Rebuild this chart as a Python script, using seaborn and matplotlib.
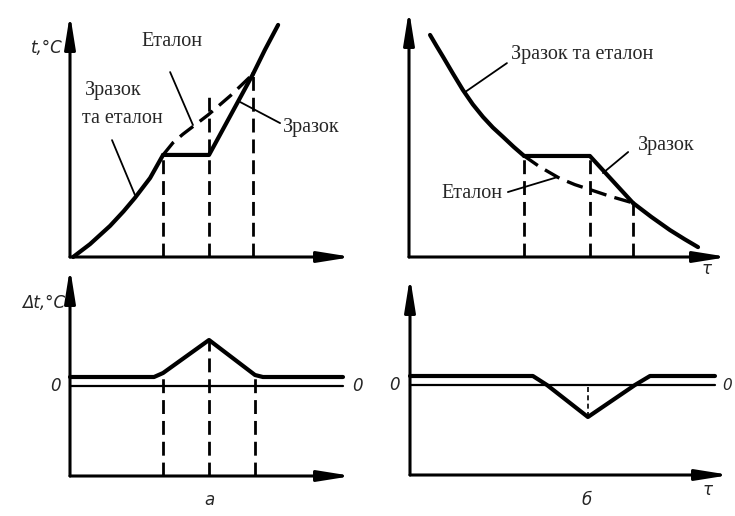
import matplotlib
matplotlib.use("Agg")
import matplotlib.pyplot as plt
import seaborn as sns

sns.set_theme(style="white")
plt.rcParams["font.family"] = ["Liberation Serif", "DejaVu Serif"]

# ---------------- data (arbitrary units: time tau 0..100, temperature 0..100) -------------
# (a) heating: top panel
a_common_x = [1.1, 7.1, 14.2, 19.0, 23.0, 28.4, 33.0]
a_common_y = [0.0, 5.3, 12.8, 18.8, 24.3, 32.5, 42.0]
a_upper_x = [64.9, 69.1, 73.8]
a_upper_y = [75.3, 85.2, 95.5]
a_sample_x = [33.0, 49.3, 64.9]
a_sample_y = [42.0, 42.0, 75.3]
a_etalon_x = [33.0, 36.5, 40.0, 48.9, 57.0, 64.9]
a_etalon_y = [42.0, 47.0, 50.5, 58.4, 66.5, 75.3]
a_vline_x = [33.0, 49.3, 64.9]
a_vline_top = [42.0, 66.7, 75.3]

# (a) heating: difference panel
a_dt_x = [0.0, 29.8, 33.0, 49.3, 65.6, 68.4, 96.8]
a_dt_y = [4.5, 4.5, 6.5, 23.0, 5.5, 4.5, 4.5]
a_dt_vline_x = [33.0, 49.3, 65.6]
a_dt_vline_top = [6.5, 23.0, 5.5]
a_zero_x = [0.0, 96.8]

# (б) cooling: top panel
b_common_x = [6.6, 8.6, 10.7, 13.8, 16.9, 20.0, 23.2, 26.3, 29.5, 32.8, 36.1]
b_common_y = [89.9, 85.5, 81.0, 74.2, 67.6, 61.8, 56.7, 52.4, 48.6, 44.6, 40.9]
b_lower_x = [70.2, 76.0, 81.8, 86.4, 90.6]
b_lower_y = [21.9, 16.2, 10.9, 7.2, 4.0]
b_sample_x = [36.1, 56.7, 70.2]
b_sample_y = [40.9, 40.9, 21.9]
b_etalon_x = [36.1, 41.0, 47.3, 52.0, 56.7, 63.0, 70.2]
b_etalon_y = [40.9, 36.5, 31.8, 29.3, 27.3, 24.6, 21.9]
b_vline_x = [36.1, 56.7, 70.2]
b_vline_top = [40.9, 40.9, 21.9]

# (б) cooling: difference panel
b_dt_x = [0.0, 38.4, 42.8, 55.6, 70.3, 75.0, 95.3]
b_dt_y = [4.5, 4.5, 0.0, -16.0, 0.0, 4.5, 4.5]
b_dt_vline_x = [55.6]
b_dt_vline_bottom = [-16.0]
b_zero_x = [0.0, 95.3]

label_etalon = "Еталон"
label_sample = "Зразок"
label_both = "Зразок та еталон"
label_both_1 = "Зразок"
label_both_2 = "та еталон"
label_t = "t,°C"
label_dt = "Δt,°C"
label_tau = "τ"
label_a = "a"
label_b = "б"

# ---------------- figure ----------------
W, H = 735, 516
fig = plt.figure(figsize=(W / 100, H / 100), dpi=100)
fig.patch.set_facecolor("white")


def make_axes(left, right, top, bottom, xlim, ylim):
    ax = fig.add_axes([left / W, 1 - bottom / H, (right - left) / W, (bottom - top) / H])
    ax.set_xlim(*xlim)
    ax.set_ylim(*ylim)
    for s in ax.spines.values():
        s.set_visible(False)
    ax.set_xticks([])
    ax.set_yticks([])
    ax.patch.set_alpha(0)
    arrow = dict(arrowstyle="-|>,head_length=1.0,head_width=0.16", lw=2.2,
                 color="black", shrinkA=0, shrinkB=0, mutation_scale=20)
    ax.annotate("", xy=(1, 0), xytext=(0, 0), xycoords="axes fraction",
                arrowprops=arrow, annotation_clip=False)
    ax.annotate("", xy=(0, 1), xytext=(0, 0), xycoords="axes fraction",
                arrowprops=arrow, annotation_clip=False)
    return ax


THICK = 3.0
DASH = dict(color="black", lw=2.0, linestyles=(0, (5, 2.5)), clip_on=False)
serif = ["Liberation Serif", "DejaVu Serif"]
ital = dict(family=["DejaVu Sans"], style="italic", fontsize=12)
lab = dict(family=serif, fontsize=14.5, ha="center", va="center")


def curve(ax, x, y, **kw):
    sns.lineplot(x=x, y=y, ax=ax, color="black", sort=False, estimator=None,
                 legend=False, **kw)
    for ln in ax.lines:
        ln.set_clip_on(False)
        ln.set_solid_joinstyle("round")
        ln.set_solid_capstyle("round")


def leader(ax, x, y):
    ax.plot(x, y, color="black", lw=1.3, clip_on=False)


# ---- top-left (a) ----
ax1 = make_axes(70, 352, 14, 257, (0, 100), (0, 100))
curve(ax1, a_common_x, a_common_y, linewidth=THICK)
curve(ax1, a_upper_x, a_upper_y, linewidth=THICK)
curve(ax1, a_sample_x, a_sample_y, linewidth=THICK)
curve(ax1, a_etalon_x, a_etalon_y, linewidth=2.4, linestyle=(0, (5, 2.5)))
ax1.vlines(a_vline_x, 0, a_vline_top, **DASH)
ax1.text(-2.5, 86.0, label_t, ha="right", va="center", **ital)
ax1.text(36.2, 88.5, label_etalon, **lab)
ax1.text(15.2, 68.7, label_both_1, **lab)
ax1.text(18.4, 57.2, label_both_2, **lab)
ax1.text(85.5, 53.1, label_sample, **lab)
leader(ax1, [35.5, 43.6], [76.1, 54.3])
leader(ax1, [14.9, 23.0], [48.1, 25.6])
leader(ax1, [74.5, 60.3], [55.1, 63.8])

# ---- top-right (б) ----
ax2 = make_axes(409, 728, 10, 257, (0, 100), (0, 100))
curve(ax2, b_common_x, b_common_y, linewidth=THICK)
curve(ax2, b_lower_x, b_lower_y, linewidth=THICK)
curve(ax2, b_sample_x, b_sample_y, linewidth=THICK)
curve(ax2, b_etalon_x, b_etalon_y, linewidth=2.4, linestyle=(0, (5, 2.5)))
ax2.vlines(b_vline_x, 0, b_vline_top, **DASH)
ax2.text(54.2, 81.8, label_both, **lab)
ax2.text(80.6, 45.3, label_sample, **lab)
ax2.text(19.7, 25.9, label_etalon, **lab)
ax2.text(93.4, -4.8, label_tau, ha="center", va="center", **ital)
leader(ax2, [30.7, 17.6], [78.5, 66.8])
leader(ax2, [68.7, 60.8], [42.5, 34.0])
leader(ax2, [31.0, 46.4], [26.3, 32.3])

# ---- bottom-left (a) ----
ax3 = make_axes(70, 352, 268, 476, (0, 100), (-45, 59))
curve(ax3, a_zero_x, [0, 0], linewidth=1.6)
curve(ax3, a_dt_x, a_dt_y, linewidth=THICK)
ax3.vlines(a_dt_vline_x, -45, a_dt_vline_top, **DASH)
ax3.text(-1.8, 41.5, label_dt, ha="right", va="center", **ital)
ax3.text(-5.3, 0, "0", ha="center", va="center", **ital)
ax3.text(102.1, 0, "0", ha="center", va="center", **ital)
ax3.text(49.3, -57, label_a, ha="center", va="center", **ital)

# ---- bottom-right (б) ----
ax4 = make_axes(410, 730, 277, 475, (0, 100), (-45, 54))
curve(ax4, b_zero_x, [0, 0], linewidth=1.6)
curve(ax4, b_dt_x, b_dt_y, linewidth=THICK)
ax4.vlines(b_dt_vline_x, b_dt_vline_bottom, 0, color="black", lw=1.2,
           linestyles=(0, (3, 2)), clip_on=False)
ax4.text(-4.7, 0, "0", ha="center", va="center", **ital)
ax4.text(99.0, 0, "0", ha="center", va="center",
         family=["DejaVu Sans"], style="italic", fontsize=11)
ax4.text(55.3, -57.5, label_b, ha="center", va="center", **ital)
ax4.text(93.1, -52.5, label_tau, ha="center", va="center", **ital)

fig.savefig("out.png", dpi=100, facecolor="white")
